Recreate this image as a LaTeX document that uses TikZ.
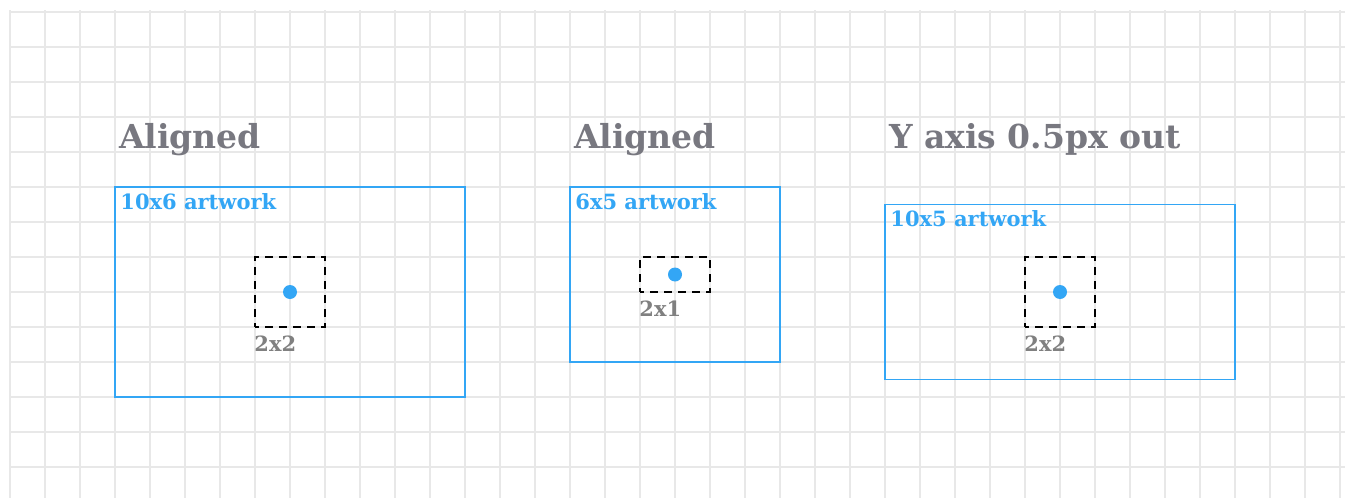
\documentclass[tikz,border=0pt]{standalone}
\usepackage{fontspec}
\setmainfont{DejaVu Serif}
\usetikzlibrary{positioning}
\definecolor{gridc}{RGB}{232,232,232}
\definecolor{art}{RGB}{51,166,245}
\definecolor{head}{RGB}{120,120,128}
\definecolor{dim}{RGB}{128,128,128}
\tikzset{
  gridline/.style={draw=gridc,line width=1.6pt},
  artbox/.style={draw=art,line width=1.6pt,inner sep=0pt},
  pad/.style={draw=black,line width=1.6pt,dash pattern=on 8pt off 6pt,
    dash phase=4pt,inner sep=0pt},
  dot/.style={circle,fill=art,inner sep=0pt,minimum size=14pt},
  title/.style={font=\bfseries\fontsize{33}{38}\selectfont,text=head,
    inner sep=0pt,anchor=base west},
  artlbl/.style={font=\bfseries\fontsize{21}{25}\selectfont,text=art,
    inner sep=0pt,anchor=base west},
  sizelbl/.style={font=\bfseries\fontsize{21}{25}\selectfont,text=dim,
    inner sep=0pt,anchor=base west},
}

\begin{document}
\begin{tikzpicture}[x=1pt,y=-1pt]
  \useasboundingbox (0,0) rectangle (1345,498);
  \fill[white] (0,0) rectangle (1345,498);

  % background grid
  \foreach \i in {0,...,38}
    \draw[gridline] ({10+35*\i},10) -- ({10+35*\i},498);
  \foreach \j in {0,...,13}
    \draw[gridline] (10,{11.7+35*\j}) -- (1345,{11.7+35*\j});

  % headings
  \node[title] (t1) at (119,148) {Aligned};
  \node[title] (t2) at (574,148) {Aligned};
  \node[title] (t3) at (889,148) {Y axis 0.5px out};

  % artwork frames
  \node[artbox,minimum width=350pt,minimum height=210pt] (a1) at (290,292) {};
  \node[artbox,minimum width=210pt,minimum height=175pt] (a2) at (675,274.5) {};
  \node[artbox,minimum width=350pt,minimum height=175pt] (a3) at (1060,292) {};
  \node[artlbl] at ([xshift=6pt,yshift=-23pt]a1.north west) {10x6 artwork};
  \node[artlbl] at ([xshift=6pt,yshift=-23pt]a2.north west) {6x5 artwork};
  \node[artlbl] at ([xshift=6pt,yshift=-23pt]a3.north west) {10x5 artwork};

  % key areas
  \node[pad,minimum width=70pt,minimum height=70pt] (p1) at (290,292) {};
  \node[pad,minimum width=70pt,minimum height=35pt] (p2) at (675,274.5) {};
  \node[pad,minimum width=70pt,minimum height=70pt] (p3) at (1060,292) {};
  \foreach \p in {p1,p2,p3}
    \node[dot] (d\p) at (\p.center) {};
  \node[sizelbl] at ([yshift=-24pt]p1.south west) {2x2};
  \node[sizelbl] at ([yshift=-24pt]p2.south west) {2x1};
  \node[sizelbl] at ([yshift=-24pt]p3.south west) {2x2};
\end{tikzpicture}
\end{document}
